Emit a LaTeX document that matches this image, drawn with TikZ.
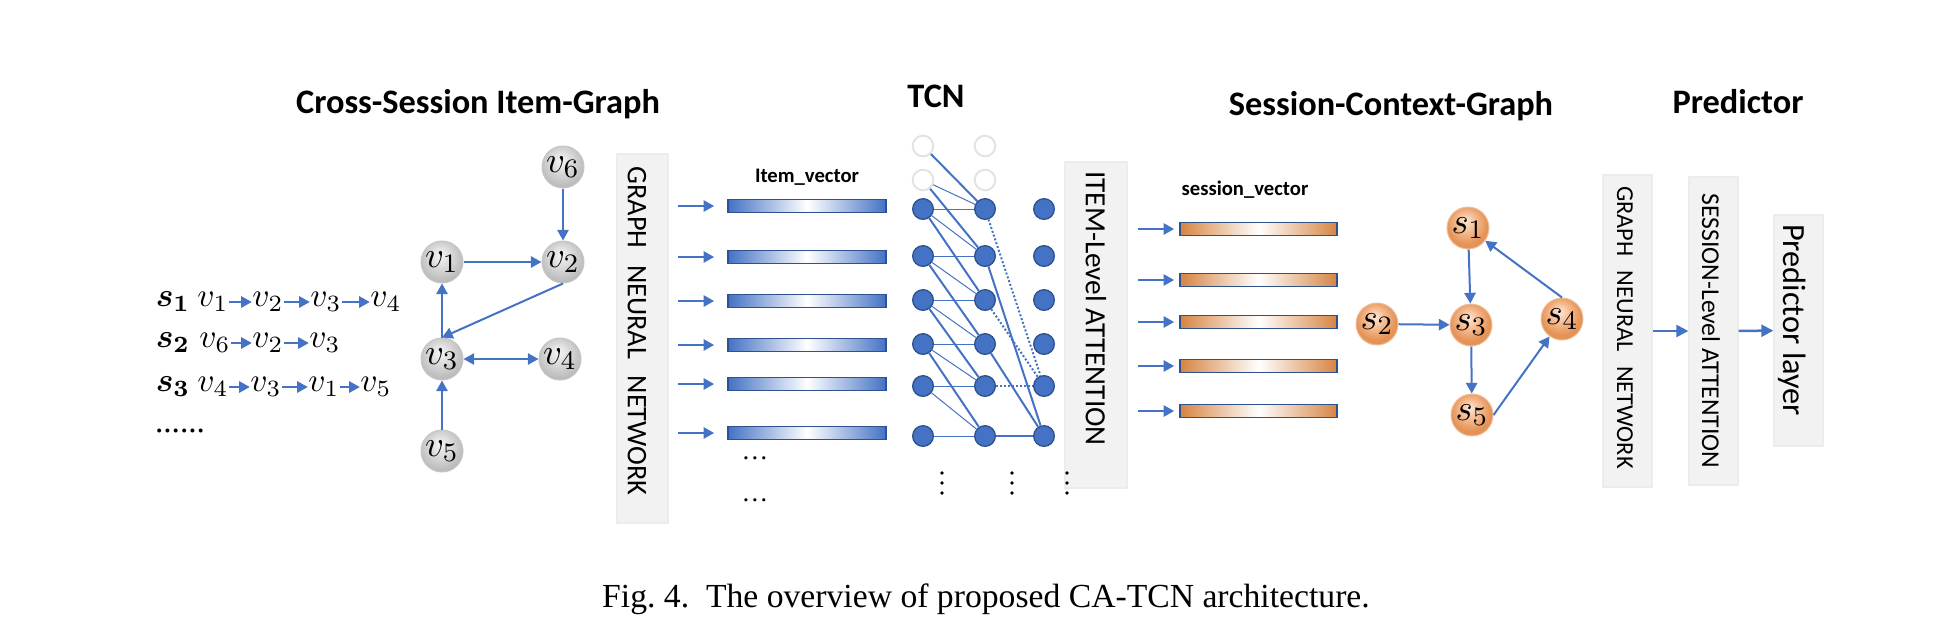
\documentclass[tikz,border=0pt]{standalone}
\usepackage{amsmath}
\usepackage{bm}
\usepackage{fontspec}
\setmainfont{Liberation Serif}
\setsansfont{Carlito}
\usetikzlibrary{arrows.meta}

\definecolor{lineblue}{RGB}{68,114,196}
\definecolor{rimblue}{RGB}{47,82,143}
\definecolor{barorange}{RGB}{214,132,66}
\definecolor{peachlight}{RGB}{252,232,216}
\definecolor{peachmid}{RGB}{245,186,142}
\definecolor{peachrim}{RGB}{228,146,86}
\definecolor{panelgray}{RGB}{242,242,242}

\pgfdeclareradialshading{grayball}{\pgfqpoint{-3bp}{9bp}}{color(0bp)=(gray!8); color(10bp)=(gray!24);
    color(22bp)=(gray!45); color(28bp)=(gray!55); color(50bp)=(gray!55)}
\pgfdeclareradialshading{peachball}{\pgfqpoint{-3bp}{9bp}}{color(0bp)=(peachlight); color(12bp)=(peachmid);
    color(24bp)=(peachrim); color(28bp)=(peachrim); color(50bp)=(peachrim)}

\begin{document}
\begin{tikzpicture}[x=0.3pt,y=-0.3pt,
    headline/.style={anchor=base,font=\sffamily\bfseries\fontsize{10.3}{12}\selectfont},
    barlabel/.style={anchor=base,font=\sffamily\bfseries\fontsize{6.2}{7}\selectfont},
    panel/.style={draw=gray!15,fill=panelgray,line width=0.4pt,inner sep=0pt},
    paneltext/.style={rotate=-90,inner sep=0pt,font=\sffamily\fontsize{#1}{10}\selectfont},
    itemball/.style={circle,shading=grayball,draw=gray!45,line width=0.3pt,
        minimum size=12.6pt,inner sep=0pt,font=\fontsize{11}{13}\selectfont},
    sessball/.style={itemball,shading=peachball,draw=peachrim!60},
    tcnunit/.style={circle,fill=lineblue,draw=rimblue,line width=0.4pt,minimum size=6.2pt,inner sep=0pt},
    tcnghost/.style={circle,draw=gray!22,line width=0.6pt,minimum size=6.2pt,inner sep=0pt},
    seqtext/.style={inner sep=0pt,font=\fontsize{10}{12}\selectfont},
    gedge/.style={draw=lineblue,line width=0.6pt,-{Triangle[length=3.2pt,width=3.4pt]}},
    twoway/.style={gedge,{Triangle[length=3.2pt,width=3.4pt]}-{Triangle[length=3.2pt,width=3.4pt]}},
    feed/.style={gedge,shorten >=#1},
    bigfeed/.style={gedge,line width=0.75pt,-{Triangle[length=3.6pt,width=3.6pt]}},
    itembar/.style={draw=rimblue,line width=0.5pt,left color=lineblue,right color=lineblue,middle color=white,
        minimum width=47.4pt,minimum height=3.9pt,inner sep=0pt},
    sessbar/.style={itembar,left color=barorange,right color=barorange,middle color=white,minimum width=47.1pt},
    tapthin/.style={draw=lineblue,line width=0.3pt},
    tapthick/.style={draw=lineblue,line width=0.6pt},
    tapdot/.style={draw=lineblue,line width=0.6pt,dash pattern=on 0.6pt off 0.6pt}]

    \useasboundingbox (0,0) rectangle (1951,637);

    % titles
    \node[headline] (t-item) at (478,113) {Cross-Session Item-Graph};
    \node[headline] (t-tcn) at (936,107) {TCN};
    \node[headline] (t-sess) at (1391,115) {Session-Context-Graph};
    \node[headline] (t-pred) at (1738,113) {Predictor};

    % sessions as item sequences
    \node[seqtext] (sq1) at (173,302) {$\bm{s_1}$};
    \node[seqtext] (sq2) at (173,343) {$\bm{s_2}$};
    \node[seqtext] (sq3) at (173,387) {$\bm{s_3}$};
    \node[seqtext] (q11) at (213,302) {$v_1$};
    \node[seqtext] (q12) at (268,302) {$v_2$};
    \node[seqtext] (q13) at (326,302) {$v_3$};
    \node[seqtext] (q14) at (386,302) {$v_4$};
    \node[seqtext] (q21) at (215,343) {$v_6$};
    \node[seqtext] (q22) at (268,343) {$v_2$};
    \node[seqtext] (q23) at (325,343) {$v_3$};
    \node[seqtext] (q31) at (213,387) {$v_4$};
    \node[seqtext] (q32) at (266,387) {$v_3$};
    \node[seqtext] (q33) at (324,387) {$v_1$};
    \node[seqtext] (q34) at (376,387) {$v_5$};
    \node[seqtext] (qdots) at (180,431) {......};
    \foreach \a/\b in {11/12,12/13,13/14,21/22,22/23,31/32,32/33,33/34}
        \draw[gedge] (q\a) -- (q\b);

    % item graph
    \node[itemball] (v6) at (563,167) {$v_6$};
    \node[itemball] (v1) at (442,262) {$v_1$};
    \node[itemball] (v2) at (563,262) {$v_2$};
    \node[itemball] (v3) at (442,359) {$v_3$};
    \node[itemball] (v4) at (560,359) {$v_4$};
    \node[itemball] (v5) at (442,451) {$v_5$};
    \foreach \a/\b in {v6/v2,v1/v2,v3/v1,v5/v3}
        \draw[gedge] (\a) -- (\b);
    \draw[gedge] (v2.south) -- (v3.north);
    \draw[twoway] (v3) -- (v4);

    % graph neural network
    \node[panel,minimum width=15.3pt,minimum height=110.7pt] (gnn1) at (642.5,338.5) {};
    \node[paneltext=8.5] (gnn1-txt) at (637,331) {GRAPH\hspace{5pt}NEURAL\hspace{5pt}NETWORK};

    % item vectors
    \node[barlabel] (ivec) at (807,182) {Item\_vector};
    \foreach \y [count=\i] in {206,257,301,345,384,433} {
        \node[itembar] (ib\i) at (807,\y) {};
        \coordinate (if\i) at (678,\y);
        \draw[feed=3.9pt] (if\i) -- (ib\i.west);
    }
    \node[font=\fontsize{8}{9}\selectfont] (idots1) at (755,458) {\ldots};
    \node[font=\fontsize{8}{9}\selectfont] (idots2) at (755,500) {\ldots};

    % item-level attention
    \node[panel,minimum width=18.6pt,minimum height=97.8pt] (iatt) at (1096,325) {};
    \node[paneltext=8.8] (iatt-txt) at (1096,308.5) {ITEM-Level ATTENTION};

    % TCN units
    \foreach \c/\x in {1/923,2/985,3/1044}
        \foreach \r/\y in {3/209,4/256,5/300,6/344,7/386,8/436}
            \node[tcnunit] (t\c-\r) at (\x,\y) {};
    \foreach \c/\x in {1/923,2/985} {
        \node[tcnghost] (t\c-1) at (\x,146) {};
        \node[tcnghost] (t\c-2) at (\x,180) {};
    }
    \foreach \j in {1,...,8} {
        \pgfmathtruncatemacro{\ja}{\j+1}
        \pgfmathtruncatemacro{\jb}{\j+2}
        \ifnum\j>2 \draw[tapthin] (t1-\j) -- (t2-\j); \fi
        \ifnum\ja>2 \ifnum\ja<9 \draw[tapthin] (t1-\j) -- (t2-\ja); \fi\fi
        \ifnum\jb<9 \draw[tapthick] (t1-\j) -- (t2-\jb); \fi
    }
    \foreach \j in {4,6,8}
        \draw[tapthick] (t2-\j) -- (t3-8);
    \foreach \j in {3,5,7}
        \draw[tapdot] (t2-\j) -- (t3-7);
    \foreach \x in {942,1012,1067}
        \foreach \y in {473,483,493}
            \fill (\x,\y) circle (0.55pt);

    % session vectors
    \node[barlabel] (svec) at (1245,195) {session\_vector};
    \foreach \y [count=\i] in {229,280,322,366,411} {
        \node[sessbar] (sb\i) at (1258.5,\y) {};
        \coordinate (sf\i) at (1138,\y);
        \draw[feed=1.5pt] (sf\i) -- (sb\i.west);
    }

    % session context graph
    \node[sessball] (s1) at (1468,228) {$s_1$};
    \node[sessball] (s2) at (1377,324) {$s_2$};
    \node[sessball] (s3) at (1471,325) {$s_3$};
    \node[sessball] (s4) at (1562,319) {$s_4$};
    \node[sessball] (s5) at (1472,415) {$s_5$};
    \foreach \a/\b in {s1/s3,s2/s3,s3/s5}
        \draw[gedge] (\a) -- (\b);
    \draw[gedge] (s5.east) -- (s4);
    \draw[gedge] (s4.north) -- (s1);

    % predictor
    \node[panel,minimum width=14.7pt,minimum height=93.6pt] (gnn2) at (1627.5,331) {};
    \node[paneltext=7.3] (gnn2-txt) at (1625,327.5) {GRAPH\hspace{4.3pt}NEURAL\hspace{4.3pt}NETWORK};
    \node[panel,minimum width=14.7pt,minimum height=92.4pt] (satt) at (1713.5,331) {};
    \node[paneltext=7.7] (satt-txt) at (1711,331) {SESSION-Level ATTENTION};
    \node[panel,minimum width=14.7pt,minimum height=69.3pt] (pred) at (1798.5,330.5) {};
    \node[paneltext=9.7] (pred-txt) at (1792,320) {Predictor layer};
    \draw[bigfeed] (gnn2) -- (satt);
    \draw[bigfeed] (satt) -- (pred);

    % caption
    \node[anchor=base,font=\rmfamily\fontsize{10.1}{12}\selectfont] (caption) at (986,607)
        {Fig.~4.\ \ The overview of proposed CA-TCN architecture.};
\end{tikzpicture}
\end{document}
